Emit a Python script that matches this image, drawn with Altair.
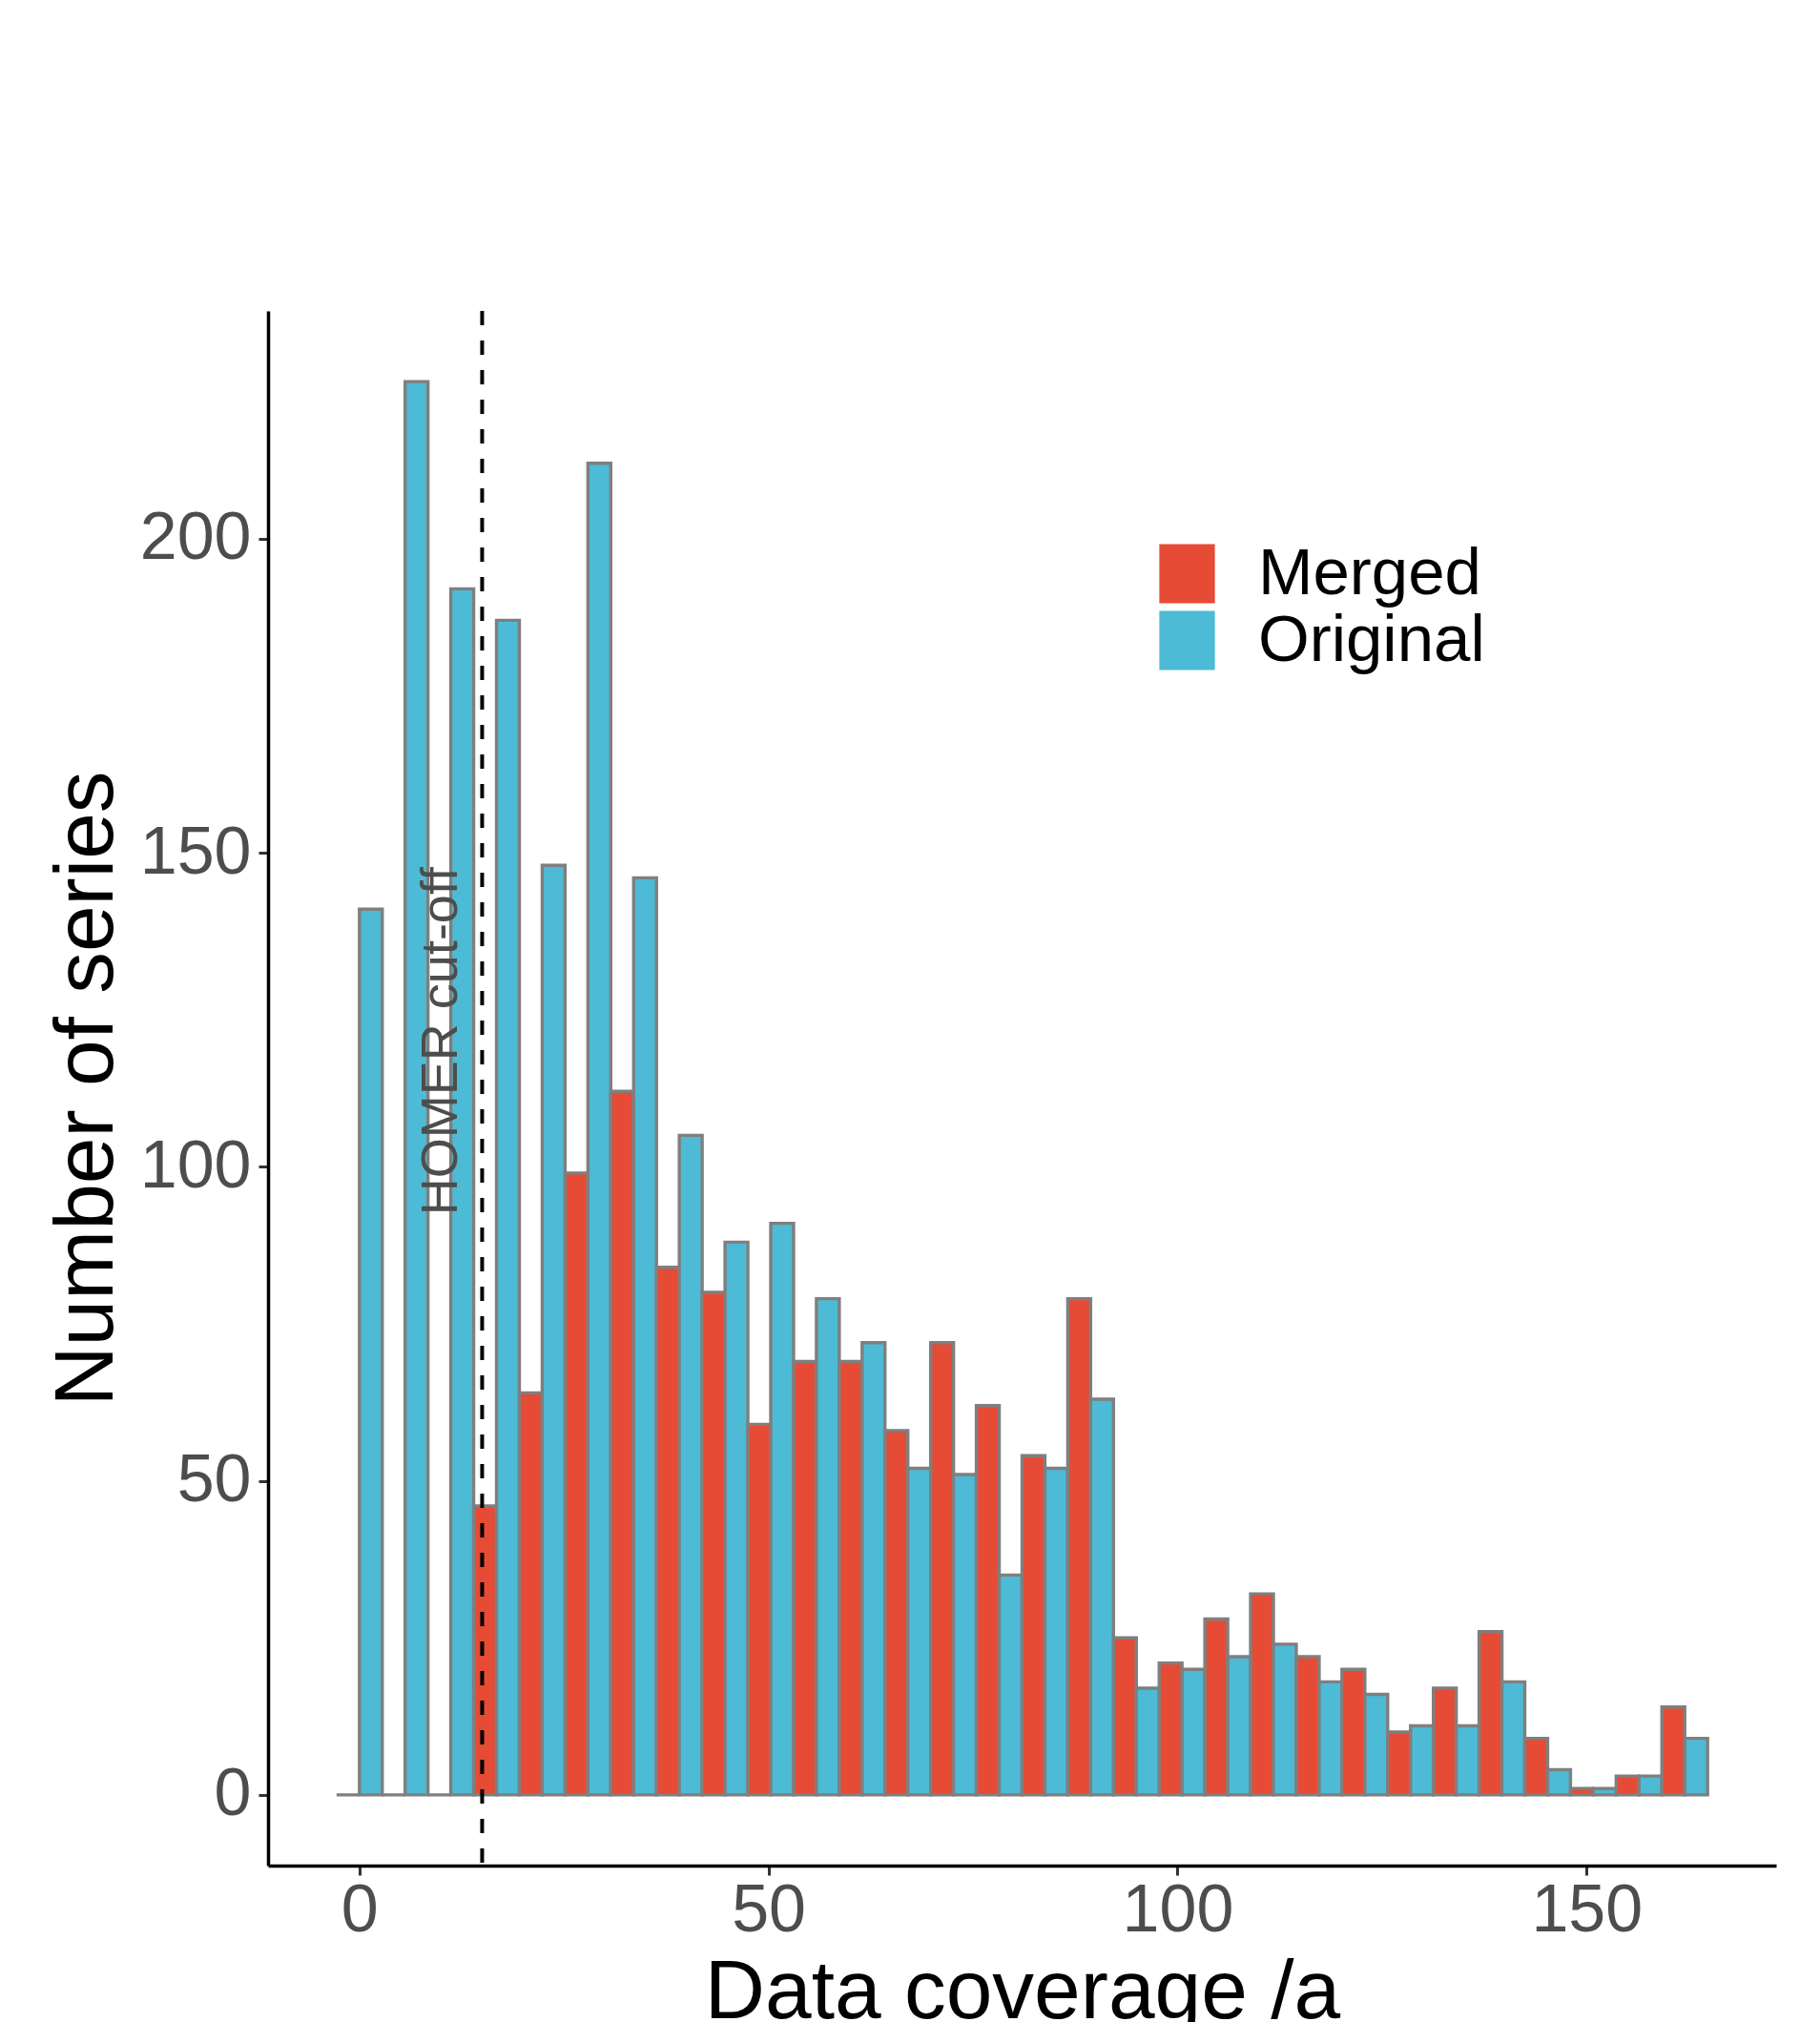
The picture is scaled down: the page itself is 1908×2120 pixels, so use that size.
import altair as alt
import pandas as pd

# ---- data ----
n_bins = 30
bin_width = 162 / 29          # histogram bins of width 162/29, first centred at 0
merged = [0, 0, 0, 46, 64, 99, 112, 84, 80, 59, 69, 69, 58, 72, 62,
          54, 79, 25, 21, 28, 32, 22, 20, 10, 17, 26, 9, 1, 3, 14]
original = [141, 225, 192, 187, 148, 212, 146, 105, 88, 91, 79, 72, 52, 51, 35,
            52, 63, 17, 20, 22, 24, 18, 16, 11, 11, 18, 4, 1, 3, 9]
groups = ["Merged", "Original"]
colors = ["#E64B35", "#4DBBD5"]
x_ticks = [0, 50, 100, 150]
y_ticks = [0, 50, 100, 150, 200]
cutoff = [15]
note_x = [10]
note_y = [120]
note_text = ["HOMER cut-off"]

rows = []
for k in range(n_bins):
    c = k * bin_width
    rows.append({"group": "Merged", "x0": c - bin_width / 2, "x1": c, "count": merged[k]})
    rows.append({"group": "Original", "x0": c, "x1": c + bin_width / 2, "count": original[k]})
df = pd.DataFrame(rows)

FONT = "Liberation Sans"
xscale = alt.Scale(domain=[-11.17, 173.17], nice=False, zero=False)
yscale = alt.Scale(domain=[-11.25, 236.25], nice=False, zero=False)

bars = alt.Chart(df).mark_bar(stroke="#7f7f7f", strokeWidth=3.4).encode(
    x=alt.X("x0:Q", scale=xscale,
            axis=alt.Axis(values=x_ticks, title="Data coverage /a",
                          titleX=790.5, titleY=159, titleBaseline="alphabetic",
                          titleAlign="center", labelPadding=3)),
    x2="x1:Q",
    y=alt.Y("count:Q", scale=yscale,
            axis=alt.Axis(values=y_ticks, title="Number of series",
                          titleAngle=270, titleX=-164, titleY=815,
                          titleBaseline="alphabetic", titleAlign="center",
                          labelPadding=8)),
    y2=alt.datum(0),
    fill=alt.Fill("group:N", scale=alt.Scale(domain=groups, range=colors),
                  legend=alt.Legend(title=None, orient="none", legendX=929, legendY=241,
                                    symbolType="M-0.94,-1H0.94V1H-0.94Z",
                                    symbolSize=3844, symbolStrokeWidth=0,
                                    labelFontSize=69, labelFont=FONT, labelColor="black",
                                    labelLimit=500, labelOffset=40, rowPadding=0,
                                    padding=0)),
)

rule = alt.Chart(pd.DataFrame({"x": cutoff})).mark_rule(
    color="black", strokeWidth=4, strokeDash=[15, 16]
).encode(x=alt.X("x:Q", scale=xscale))

note = alt.Chart(pd.DataFrame({"x": note_x, "y": note_y, "t": note_text})).mark_text(
    angle=270, fontSize=54, color="#4d4d4d", font=FONT, align="center", baseline="middle"
).encode(x=alt.X("x:Q", scale=xscale), y=alt.Y("y:Q", scale=yscale), text="t:N")

chart = alt.layer(bars, rule, note).properties(
    width=1581, height=1630,
    padding={"left": 273, "top": 318, "right": 30, "bottom": 200},
    autosize=alt.AutoSizeParams(type="none"),
).configure_view(strokeWidth=0).configure_axis(
    grid=False, domainColor="black", domainWidth=3.5,
    tickColor="#333333", tickWidth=3, tickSize=10,
    labelColor="#4d4d4d", labelFontSize=70, labelFont=FONT,
    titleFont=FONT, titleFontSize=87.5, titleColor="black", titleFontWeight="normal",
)

chart.save("out.html", embed_options={"renderer": "svg", "actions": False})
